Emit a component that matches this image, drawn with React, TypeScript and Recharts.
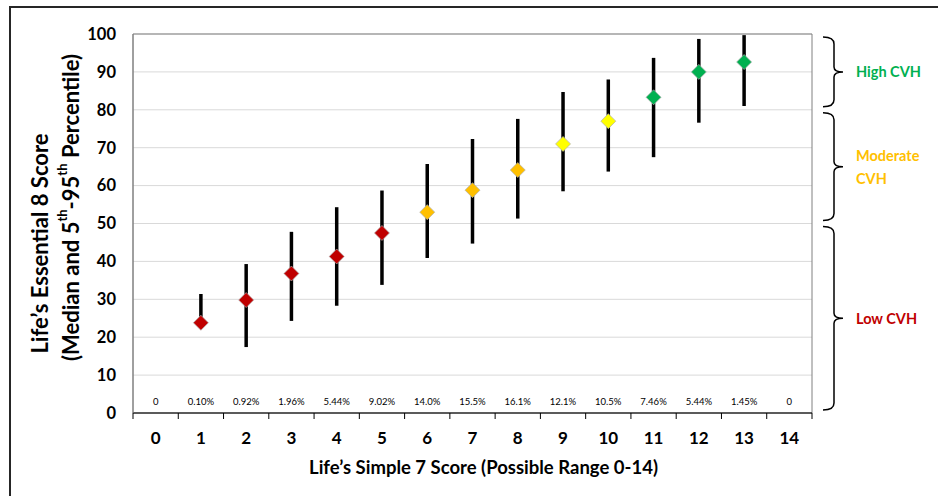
import React from 'react';
import {
  ComposedChart,
  Scatter,
  ErrorBar,
  XAxis,
  YAxis,
  CartesianGrid,
  ReferenceArea,
} from 'recharts';

// ---- data ----
const xTickValues = [0, 1, 2, 3, 4, 5, 6, 7, 8, 9, 10, 11, 12, 13, 14];
const percentLabels = ['0', '0.10%', '0.92%', '1.96%', '5.44%', '9.02%', '14.0%', '15.5%', '16.1%', '12.1%', '10.5%', '7.46%', '5.44%', '1.45%', '0'];
const yTickValues = [0, 10, 20, 30, 40, 50, 60, 70, 80, 90, 100];

const scores = [1, 2, 3, 4, 5, 6, 7, 8, 9, 10, 11, 12, 13];
const medians = [23.8, 29.8, 36.8, 41.3, 47.5, 53.0, 58.8, 64.1, 71.0, 77.0, 83.3, 90.0, 92.6];
const lows = [23.0, 17.4, 24.3, 28.3, 33.8, 40.9, 44.7, 51.3, 58.5, 63.7, 67.5, 76.6, 81.0];
const highs = [31.4, 39.3, 47.8, 54.3, 58.7, 65.7, 72.3, 77.6, 84.7, 88.0, 93.7, 98.7, 99.7];
const pointColors = ['#C00000', '#C00000', '#C00000', '#C00000', '#C00000', '#FFC000', '#FFC000', '#FFC000', '#FFFF00', '#FFFF00', '#00B050', '#00B050', '#00B050'];

const xTitle = 'Life’s Simple 7 Score (Possible Range 0-14)';
const yTitleLine1 = 'Life’s Essential 8 Score';

const cvhBands = [
  { lines: ['High CVH'], from: 80, to: 100, color: '#00B050' },
  { lines: ['Moderate', 'CVH'], from: 50, to: 80, color: '#FFC000' },
  { lines: ['Low CVH'], from: 0, to: 50, color: '#C00000' },
];

const points = scores.map((s, i) => ({
  score: s,
  median: medians[i],
  err: [medians[i] - lows[i], highs[i] - medians[i]],
  color: pointColors[i],
}));

// boundaries between categories (tick marks) + integer positions (labels)
const allXTicks: number[] = [];
xTickValues.forEach((v) => {
  allXTicks.push(v - 0.5);
  allXTicks.push(v);
});
allXTicks.push(xTickValues[xTickValues.length - 1] + 0.5);

const FONT = 'Lato, "Noto Sans", sans-serif';

const renderXTick = (props: any) => {
  const { x, y, payload } = props;
  const v = payload.value;
  if (Number.isInteger(v)) {
    return (
      <g>
        <text x={x} y={y + 31} textAnchor="middle" fontSize={17} fontWeight={700} fill="#000" fontFamily={FONT}>
          {String(v)}
        </text>
        <text x={x} y={y - 8} textAnchor="middle" fontSize={9.5} fill="#000" fontFamily={FONT}>
          {percentLabels[xTickValues.indexOf(v)]}
        </text>
      </g>
    );
  }
  return <line x1={x} y1={y} x2={x} y2={y + 6} stroke="#000" strokeWidth={1} />;
};

const renderXTitle = (props: any) => {
  const vb = props.viewBox || {};
  const cx = vb.x + vb.width / 2 + 11;
  return (
    <text x={cx} y={vb.y + 61} textAnchor="middle" fontSize={18.5} fontWeight={700} fill="#000" fontFamily={FONT}>
      {xTitle}
    </text>
  );
};

const renderYTitle = (props: any) => {
  const vb = props.viewBox || {};
  const cy = vb.y + vb.height / 2;
  const x1 = 39;
  const x2 = 70;
  const y1 = cy + 20;
  const y2 = cy - 16;
  return (
    <g fontFamily={FONT} fontWeight={700} fill="#000">
      <text
        x={x1}
        y={y1}
        transform={`rotate(-90, ${x1}, ${y1})`}
        textAnchor="middle"
        dominantBaseline="central"
        fontSize={22}
      >
        {yTitleLine1}
      </text>
      <text
        x={x2}
        y={y2}
        transform={`rotate(-90, ${x2}, ${y2})`}
        textAnchor="middle"
        dominantBaseline="central"
        fontSize={22}
      >
        <tspan>(Median and 5</tspan>
        <tspan fontSize={13} dy={-8}>th</tspan>
        <tspan dy={8}>-95</tspan>
        <tspan fontSize={13} dy={-8}>th</tspan>
        <tspan dy={8}> Percentile)</tspan>
      </text>
    </g>
  );
};

const makeBrace = (band: typeof cvhBands[number]) => (props: any) => {
  const { x, y, width, height } = props;
  const spine = x + width + 22;
  const top = y + 3;
  const bot = y + height - 3;
  const mid = (top + bot) / 2;
  const d = [
    `M ${spine - 11} ${top}`,
    `Q ${spine} ${top} ${spine} ${top + 7}`,
    `L ${spine} ${mid - 5}`,
    `Q ${spine} ${mid} ${spine + 9} ${mid}`,
    `Q ${spine} ${mid} ${spine} ${mid + 5}`,
    `L ${spine} ${bot - 7}`,
    `Q ${spine} ${bot} ${spine - 11} ${bot}`,
  ].join(' ');
  const lh = 23;
  const startY = mid - ((band.lines.length - 1) * lh) / 2;
  return (
    <g>
      <path d={d} fill="none" stroke="#000" strokeWidth={1.5} />
      {band.lines.map((ln, i) => (
        <text
          key={ln}
          x={spine + 22}
          y={startY + i * lh}
          dominantBaseline="central"
          fontSize={14.5}
          fontWeight={700}
          fill={band.color}
          fontFamily={FONT}
        >
          {ln}
        </text>
      ))}
    </g>
  );
};

const renderDiamond = (props: any) => {
  const { cx, cy, payload } = props;
  const r = 7.5;
  return (
    <path
      d={`M ${cx} ${cy - r} L ${cx + r} ${cy} L ${cx} ${cy + r} L ${cx - r} ${cy} Z`}
      fill={payload.color}
      stroke="#b0b0b0"
      strokeWidth={0.7}
    />
  );
};

export default function App() {
  return (
    <div style={{ position: 'absolute', left: 0, top: 0, width: 938, height: 496, background: '#fff', fontFamily: FONT }}>
      <ComposedChart
        width={938}
        height={496}
        data={points}
        margin={{ top: 34, right: 126, bottom: 0, left: 0 }}
      >
        <CartesianGrid vertical={false} stroke="#d9d9d9" strokeWidth={1} />
        <XAxis
          type="number"
          dataKey="score"
          domain={[-0.5, 14.5]}
          allowDataOverflow
          ticks={allXTicks}
          interval={0}
          tickLine={false}
          tickSize={0}
          tickMargin={0}
          tick={renderXTick}
          axisLine={{ stroke: '#000', strokeWidth: 1 }}
          height={83}
          label={{ content: renderXTitle }}
        />
        <YAxis
          type="number"
          dataKey="median"
          domain={[0, 100]}
          allowDataOverflow
          ticks={yTickValues}
          interval={0}
          width={133}
          tickLine={false}
          tickSize={0}
          tickMargin={17}
          axisLine={{ stroke: '#808080', strokeWidth: 1 }}
          tick={{ fill: '#000', fontSize: 16.5, fontWeight: 700 }}
          label={{ content: renderYTitle }}
        />
        <ReferenceArea y1={0} y2={100} fill="none" stroke="#808080" strokeWidth={1} />
        {cvhBands.map((b) => (
          <ReferenceArea key={b.lines.join(' ')} y1={b.from} y2={b.to} fill="none" shape={makeBrace(b)} />
        ))}
        <Scatter data={points} dataKey="median" shape={renderDiamond} isAnimationActive={false}>
          <ErrorBar dataKey="err" direction="y" width={0} stroke="#000" strokeWidth={3.5} isAnimationActive={false} />
        </Scatter>
      </ComposedChart>
      <div
        style={{
          position: 'absolute',
          left: 9,
          top: 6,
          width: 929,
          height: 490,
          borderTop: '2px solid #262626',
          borderLeft: '2px solid #262626',
          pointerEvents: 'none',
        }}
      />
    </div>
  );
}
